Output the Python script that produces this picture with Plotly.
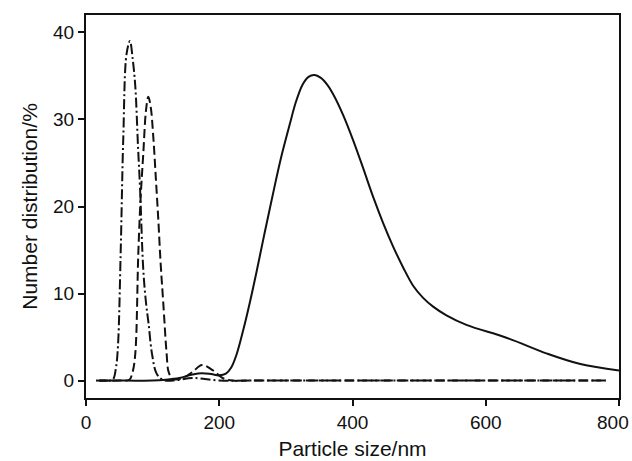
import plotly.graph_objects as go

# Solid curve
solid_x = [20, 60, 100, 120, 140, 160, 174, 188, 200, 210, 218, 226, 236, 246, 256, 266, 276, 285, 294, 306, 315, 325, 334, 343, 352, 362, 371, 386, 401, 416, 431, 446, 461, 476, 491, 506, 521, 541, 571, 632, 692, 742, 800]
solid_y = [0, 0, 0, 0.1, 0.3, 0.7, 0.85, 0.75, 0.6, 0.8, 1.5, 3.0, 5.8, 9.0, 12.5, 16.2, 19.8, 23.0, 26, 29.5, 32, 34, 34.9, 35.1, 34.8, 34, 32.9, 30.5, 27.6, 24.4, 21.1, 18.1, 15.4, 13, 10.9, 9.5, 8.5, 7.5, 6.4, 4.9, 3.1, 1.9, 1.15]

# Dashed curve
dash_x = [20, 50, 65, 70, 74, 78.5, 82, 86, 90, 93.5, 97, 101, 105, 108.6, 112, 116, 121, 124, 130, 145, 160, 174, 190, 205, 220, 250, 780]
dash_y = [0, 0, 0.1, 1, 3.1, 14.6, 21, 26.1, 31, 32.6, 31.5, 28, 23, 18.4, 13.5, 8.9, 3.1, 1.0, 0.2, 0.3, 1.0, 1.8, 1.2, 0.3, 0, 0, 0]

# Dash-dot curve
dd_x = [15, 30, 40, 45, 48, 52, 56, 61, 66, 70, 74, 78, 81, 86, 90, 94, 99, 106, 115, 130, 160, 200, 250, 780]
dd_y = [0, 0, 0.1, 1.5, 4, 14.6, 28, 37.6, 39, 37, 33.8, 27, 22.3, 12.7, 9, 6.5, 3.1, 0.8, 0.1, 0, 0.3, 0, 0, 0]

x_ticks = [0, 200, 400, 600, 800]
x_ticktext = ["0", "200", "400", "600", ""]   # last label drawn as annotation so it stays inside the page
last_x_label = "800"
y_ticks = [0, 10, 20, 30, 40]

FONT = "Liberation Sans, Arial, sans-serif"

fig = go.Figure()
fig.add_trace(go.Scatter(x=dd_x, y=dd_y, mode="lines",
                         line=dict(color="#111111", width=2, dash="10px,3px,2px,3px", shape="spline", smoothing=1.0)))
fig.add_trace(go.Scatter(x=dash_x, y=dash_y, mode="lines",
                         line=dict(color="#111111", width=2, dash="9px,4px", shape="spline", smoothing=1.0)))
fig.add_trace(go.Scatter(x=solid_x, y=solid_y, mode="lines",
                         line=dict(color="#111111", width=2, shape="spline", smoothing=1.0)))

axis_common = dict(showgrid=False, zeroline=False, showline=True, linecolor="#111111", linewidth=2,
                   mirror=True, ticks="outside", ticklen=6, tickwidth=2, tickcolor="#111111",
                   automargin=False,
                   tickfont=dict(family=FONT, size=19, color="#111111"))

fig.update_layout(
    width=632, height=461,
    margin=dict(l=86, r=13, t=15, b=63),
    paper_bgcolor="white", plot_bgcolor="white",
    showlegend=False,
    xaxis=dict(range=[0, 800], tickvals=x_ticks, ticktext=x_ticktext,
               title=dict(text="Particle size/nm", standoff=10,
                          font=dict(family=FONT, size=21, color="#111111")),
               **axis_common),
    yaxis=dict(range=[-2, 42], tickvals=y_ticks,
               title=dict(text="Number distribution/%", standoff=10,
                          font=dict(family=FONT, size=21, color="#111111")),
               **axis_common),
)

fig.add_annotation(text=last_x_label, xref="x", x=x_ticks[-1], yref="paper", y=0,
                   xanchor="right", yanchor="middle", xshift=12, yshift=-24,
                   showarrow=False, font=dict(family=FONT, size=19, color="#111111"))

fig.write_html("out.html")
